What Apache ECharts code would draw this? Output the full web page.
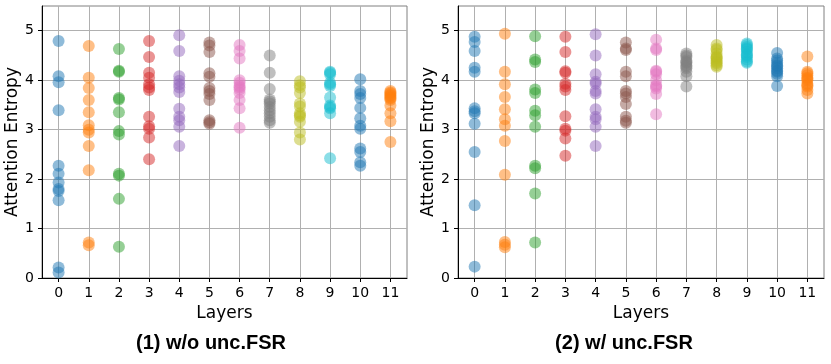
<!DOCTYPE html>
<html>
<head>
<meta charset="utf-8">
<script src="https://cdn.jsdelivr.net/npm/echarts@6/dist/echarts.min.js"></script>
<style>
  html, body { margin: 0; padding: 0; background: #fff; }
  #chart { width: 831px; height: 364px; }
</style>
</head>
<body>
<div id="chart"></div>
<script>
// layers 0..11, colours follow the matplotlib tab10 cycle
const layers = [0, 1, 2, 3, 4, 5, 6, 7, 8, 9, 10, 11];
const colors = ['#1f77b4', '#ff7f0e', '#2ca02c', '#d62728', '#9467bd', '#8c564b',
  '#e377c2', '#7f7f7f', '#bcbd22', '#17becf', '#1f77b4', '#ff7f0e'];
const yTicks = [0, 1, 2, 3, 4, 5];

// (1) w/o unc.FSR : entropy per head, one list per layer
const woFSR = [
  [4.79, 4.08, 3.96, 3.39, 2.27, 2.11, 1.93, 1.80, 1.76, 1.57, 0.21, 0.11],
  [4.69, 4.05, 3.84, 3.60, 3.35, 3.09, 3.0, 2.94, 2.67, 2.18, 0.72, 0.66],
  [4.63, 4.19, 4.17, 3.64, 3.61, 3.35, 2.97, 2.90, 2.11, 2.07, 1.60, 0.63],
  [4.79, 4.47, 4.15, 4.05, 3.92, 3.85, 3.80, 3.26, 3.07, 3.02, 2.84, 2.40],
  [4.91, 4.59, 4.08, 3.99, 3.92, 3.85, 3.76, 3.42, 3.26, 3.19, 3.06, 2.67],
  [4.76, 4.70, 4.57, 4.14, 4.07, 3.84, 3.78, 3.72, 3.60, 3.19, 3.15, 3.12],
  [4.71, 4.59, 4.44, 4.00, 3.95, 3.88, 3.85, 3.81, 3.74, 3.60, 3.43, 3.04],
  [4.50, 4.15, 3.82, 3.61, 3.57, 3.53, 3.46, 3.39, 3.33, 3.26, 3.19, 3.14],
  [3.98, 3.90, 3.85, 3.74, 3.53, 3.47, 3.33, 3.29, 3.26, 3.16, 2.94, 2.80],
  [4.17, 4.15, 4.12, 3.95, 3.92, 3.88, 3.65, 3.49, 3.46, 3.43, 3.33, 2.42],
  [4.02, 3.78, 3.72, 3.64, 3.44, 3.23, 3.08, 3.02, 2.62, 2.55, 2.34, 2.27],
  [3.78, 3.75, 3.73, 3.70, 3.68, 3.65, 3.63, 3.60, 3.49, 3.33, 3.17, 2.75]
];

// (2) w/ unc.FSR
const wFSR = [
  [4.88, 4.77, 4.59, 4.25, 4.17, 3.43, 3.37, 3.33, 3.12, 2.55, 1.47, 0.23],
  [4.94, 4.17, 3.92, 3.66, 3.41, 3.21, 3.08, 2.77, 2.09, 0.73, 0.67, 0.62],
  [4.89, 4.42, 4.37, 3.81, 3.74, 3.38, 3.29, 3.06, 2.27, 2.22, 1.71, 0.72],
  [4.88, 4.57, 4.18, 4.15, 3.93, 3.87, 3.80, 3.27, 3.02, 2.98, 2.82, 2.47],
  [4.93, 4.50, 4.12, 3.97, 3.93, 3.78, 3.73, 3.41, 3.26, 3.21, 3.06, 2.67],
  [4.76, 4.64, 4.61, 4.17, 4.08, 3.78, 3.73, 3.66, 3.52, 3.26, 3.18, 3.14],
  [4.82, 4.64, 4.61, 4.19, 4.17, 4.12, 4.00, 3.90, 3.87, 3.83, 3.72, 3.31],
  [4.54, 4.50, 4.47, 4.40, 4.37, 4.35, 4.30, 4.27, 4.24, 4.17, 4.08, 3.87],
  [4.71, 4.64, 4.61, 4.54, 4.48, 4.46, 4.44, 4.40, 4.37, 4.34, 4.30, 4.27],
  [4.74, 4.71, 4.67, 4.64, 4.62, 4.57, 4.52, 4.50, 4.47, 4.42, 4.38, 4.35],
  [4.55, 4.44, 4.40, 4.35, 4.30, 4.28, 4.24, 4.19, 4.17, 4.13, 4.08, 3.88],
  [4.48, 4.17, 4.14, 4.10, 4.05, 4.03, 4.00, 3.93, 3.90, 3.87, 3.80, 3.73]
];

const chart = echarts.init(document.getElementById('chart'));

const font = 'DejaVu Sans';
const gridColor = '#b0b0b0';

const makeX = (idx) => ({
  type: 'value',
  gridIndex: idx,
  min: -0.55,
  max: 11.55,
  name: 'Layers',
  nameLocation: 'middle',
  nameGap: 24,
  nameTextStyle: { fontFamily: font, fontSize: 17, color: '#000' },
  axisLine: { show: true, onZero: false, lineStyle: { color: '#000', width: 1 } },
  axisTick: { show: true, length: 4, customValues: layers, lineStyle: { color: '#000' } },
  axisLabel: { customValues: layers, margin: 8, fontFamily: font, fontSize: 14, color: '#000' },
  splitLine: { show: true, lineStyle: { color: gridColor, width: 1 } }
});

const makeY = (idx) => ({
  type: 'value',
  gridIndex: idx,
  min: 0,
  max: 5.5,
  name: 'Attention Entropy',
  nameLocation: 'middle',
  nameGap: 20,
  nameTextStyle: { fontFamily: font, fontSize: 17, color: '#000' },
  axisLine: { show: true, onZero: false, lineStyle: { color: '#000', width: 1 } },
  axisTick: { show: true, length: 4, customValues: yTicks, lineStyle: { color: '#000' } },
  axisLabel: { customValues: yTicks, margin: 8, fontFamily: font, fontSize: 14, color: '#000' },
  splitLine: { show: true, lineStyle: { color: gridColor, width: 1 } }
});

const series = [];
[woFSR, wFSR].forEach((panel, p) => {
  for (let i = 0; i < layers.length; i++) {
    series.push({
      type: 'scatter',
      xAxisIndex: p,
      yAxisIndex: p,
      symbol: 'circle',
      symbolSize: 12,
      itemStyle: { color: colors[i], opacity: 0.5 },
      emphasis: { disabled: true },
      data: panel[i].map(v => [layers[i], v])
    });
  }
});

const option = {
  animation: false,
  backgroundColor: '#fff',
  title: [
    {
      text: '(1) w/o unc.FSR', left: 206, top: 328, textAlign: 'center',
      textStyle: { fontFamily: 'Liberation Sans', fontWeight: 'bold', fontSize: 20, color: '#000' }
    },
    {
      text: '(2) w/ unc.FSR', left: 619, top: 328, textAlign: 'center',
      textStyle: { fontFamily: 'Liberation Sans', fontWeight: 'bold', fontSize: 20, color: '#000' }
    }
  ],
  grid: [
    { left: 42, top: 6, width: 365, height: 272, show: true, borderColor: '#808080', borderWidth: 1 },
    { left: 458, top: 6, width: 366, height: 272, show: true, borderColor: '#808080', borderWidth: 1 }
  ],
  xAxis: [makeX(0), makeX(1)],
  yAxis: [makeY(0), makeY(1)],
  series: series
};

chart.setOption(option);
</script>
</body>
</html>
